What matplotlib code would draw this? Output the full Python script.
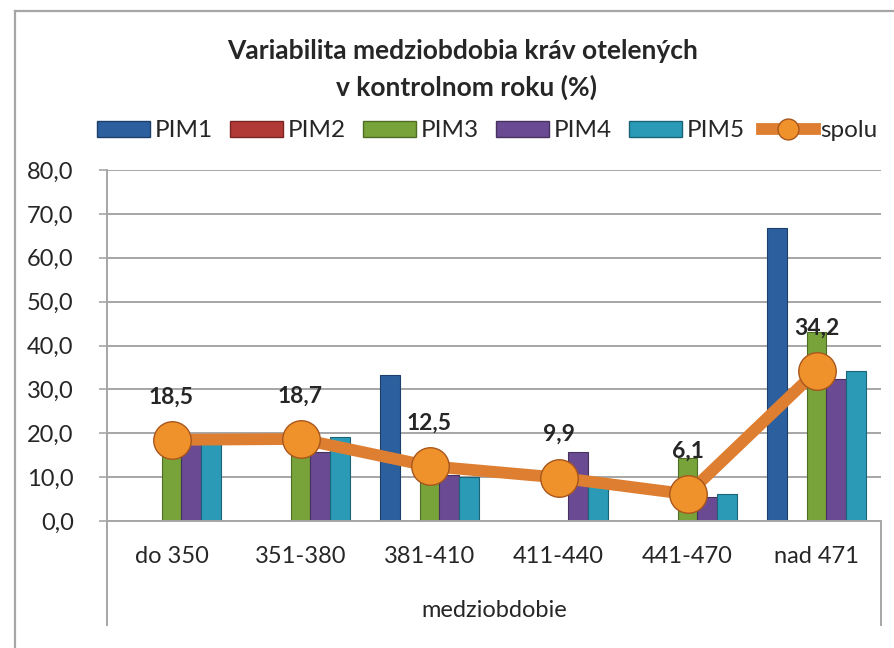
import matplotlib
matplotlib.use("Agg")
import matplotlib.pyplot as plt
import numpy as np
from matplotlib.lines import Line2D
from matplotlib.patches import Patch

plt.rcParams["font.family"] = ["Lato", "DejaVu Sans"]

# Intervals between calvings (category axis) and share of cows per group (%).
CATEGORIES = ["do 350", "351-380", "381-410", "411-440", "441-470", "nad 471"]
PIM1 = [0.0, 0.0, 33.3, 0.0, 0.0, 66.7]
PIM2 = [0.0, 0.0, 0.0, 0.0, 0.0, 0.0]
PIM3 = [16.4, 16.4, 11.5, 0.0, 14.4, 43.1]
PIM4 = [19.0, 15.8, 10.5, 15.8, 5.4, 32.4]
PIM5 = [18.0, 19.2, 10.0, 8.0, 6.1, 34.3]
SPOLU = [18.5, 18.7, 12.5, 9.9, 6.1, 34.2]

SERIES_NAMES = ["PIM1", "PIM2", "PIM3", "PIM4", "PIM5"]
BAR_COLORS = ["#2c5f9e", "#b23a36", "#78a23a", "#6a4b93", "#2a9ab6"]
EDGE_COLORS = ["#1d3f6b", "#7a2522", "#4f6c25", "#46315f", "#1b6477"]

Y_TICKS = [0, 10, 20, 30, 40, 50, 60, 70, 80]

GRID = "#a6a6a6"
TEXT = "#262626"

fig = plt.figure(figsize=(8.94, 6.48), dpi=100)
ax = fig.add_axes([107 / 894, 1 - 521 / 648, (881 - 107) / 894, (521 - 170) / 648])

x = np.arange(len(CATEGORIES))
bar_w = 0.155
series = [PIM1, PIM2, PIM3, PIM4, PIM5]
for i, vals in enumerate(series):
    offset = (i - 2) * bar_w
    ax.bar(x + offset, vals, width=bar_w, color=BAR_COLORS[i],
           edgecolor=EDGE_COLORS[i], linewidth=0.8, zorder=2)

ax.plot(x, SPOLU, color="#de7e31", lw=8.5, solid_capstyle="butt", zorder=3,
        marker="o", markersize=27, markerfacecolor="#f0922b",
        markeredgecolor="#a8561c", markeredgewidth=1.0)

for xi, v in zip(x, SPOLU):
    ax.annotate(f"{v:.1f}".replace(".", ","), (xi, v), xytext=(0, 31),
                textcoords="offset points", ha="center", va="center",
                fontsize=16.5, fontweight="bold", color=TEXT, zorder=4)

ax.set_xlim(-0.5, len(CATEGORIES) - 0.5)
ax.set_ylim(0, 80)
ax.set_yticks(Y_TICKS)
ax.set_yticklabels([f"{t:.1f}".replace(".", ",") for t in Y_TICKS])
ax.set_xticks(x)
ax.set_xticklabels(CATEGORIES)
ax.tick_params(axis="y", length=6, width=1.2, color=GRID, pad=18,
               labelsize=17, labelcolor=TEXT)
ax.tick_params(axis="x", length=0, pad=18, labelsize=17, labelcolor=TEXT)
ax.set_xlabel("medziobdobie", fontsize=17, color=TEXT, labelpad=24)

ax.grid(axis="y", color=GRID, lw=1.4, zorder=0)
ax.set_axisbelow(True)
for side in ["top", "right"]:
    ax.spines[side].set_visible(False)
for side in ["left", "bottom"]:
    ax.spines[side].set_color(GRID)
    ax.spines[side].set_linewidth(1.4)

# multi-level category axis box below the plot
drop = (625 - 521) / (521 - 170)
for xa in (0, 1):
    ax.add_line(Line2D([xa, xa], [0, -drop], transform=ax.transAxes,
                       color=GRID, lw=1.4, clip_on=False))

# outer chart frame (cropped on right and bottom)
fig.add_artist(Line2D([15 / 894, 15 / 894], [0, 1 - 11 / 648],
                      transform=fig.transFigure, color=GRID, lw=1.6))
fig.add_artist(Line2D([15 / 894, 1], [1 - 11 / 648, 1 - 11 / 648],
                      transform=fig.transFigure, color=GRID, lw=1.6))

fig.text(463 / 894, 1 - 51 / 648, "Variabilita medziobdobia kráv otelených",
         ha="center", va="center", fontsize=19, fontweight="bold", color=TEXT)
fig.text(466 / 894, 1 - 87 / 648, "v kontrolnom roku (%)",
         ha="center", va="center", fontsize=19, fontweight="bold", color=TEXT)

legend_handles = [Patch(facecolor=BAR_COLORS[i], edgecolor=EDGE_COLORS[i])
                  for i in range(5)]
legend_handles.append(Line2D([], [], color="#de7e31", lw=8.5, marker="o",
                             markersize=15, markerfacecolor="#f0922b",
                             markeredgecolor="#a8561c"))
fig.legend(legend_handles, SERIES_NAMES + ["spolu"], loc="center",
           bbox_to_anchor=(487 / 894, 1 - 131 / 648), ncol=6, frameon=False,
           fontsize=17.5, handlelength=2.2, handleheight=0.65, handletextpad=0.2,
           columnspacing=0.68, labelcolor=TEXT)

fig.savefig("out.png", dpi=100)
